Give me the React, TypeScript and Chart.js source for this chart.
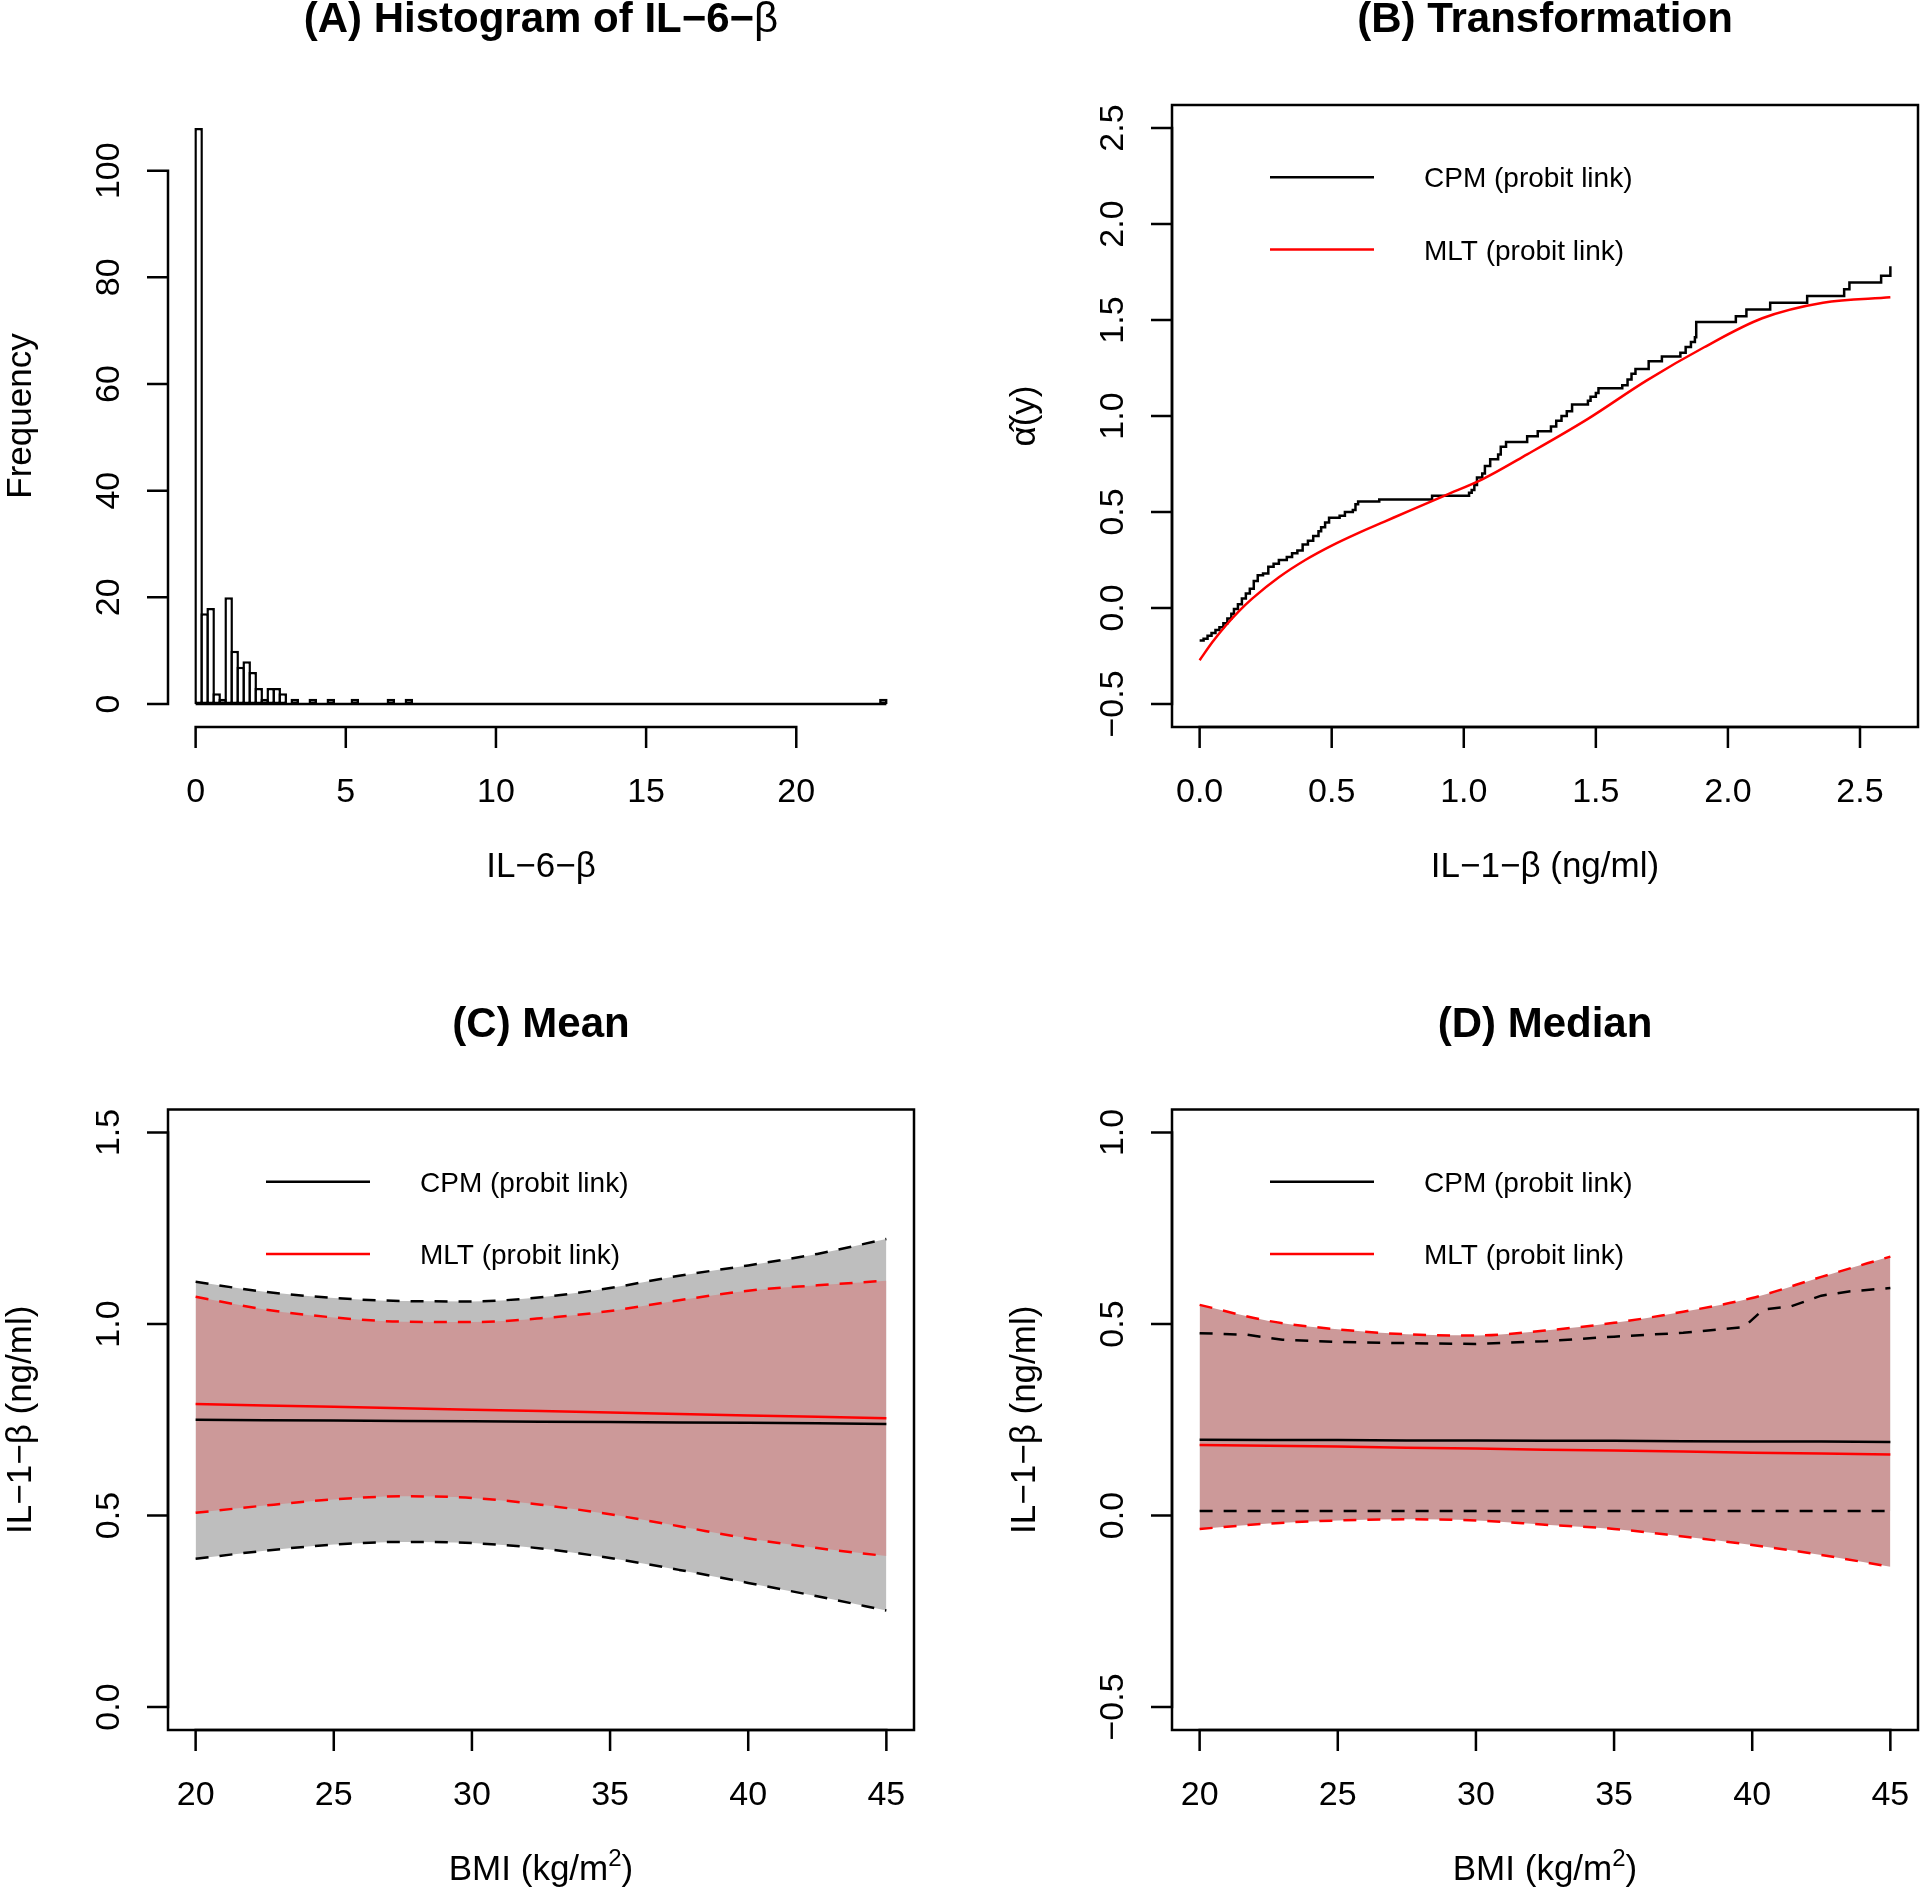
import React, { useEffect, useRef } from "react";
import { Chart, registerables } from "chart.js";

Chart.register(...registerables);

const FONT = '"Liberation Sans", Arial, Helvetica, sans-serif';
const RED = "#FF0000";
const BLACK = "#000000";
const GREY_FILL = "#BEBEBE";
const PINK_FILL = "#CC9999";
const LW = 2.5;
const DASH = [13, 11];
const TICK = 21;

// ---------------- Panel A: histogram of IL-6-β ----------------
const histBinWidth = 0.2;
const histBinStart = [0, 0.2, 0.4, 0.6, 0.8, 1.0, 1.2, 1.4, 1.6, 1.8, 2.0, 2.2, 2.4, 2.6, 2.8, 3.2, 3.8, 4.4, 5.2, 6.4, 7.0, 22.8];
const histCount = [108, 17, 18, 2, 1, 20, 10, 7, 8, 6, 3, 1, 3, 3, 2, 1, 1, 1, 1, 1, 1, 1];
const histBreakRange = [0, 23];
const histXTicks = [0, 5, 10, 15, 20];
const histXTickLabels = ["0", "5", "10", "15", "20"];
const histYTicks = [0, 20, 40, 60, 80, 100];
const histYTickLabels = ["0", "20", "40", "60", "80", "100"];

// ---------------- Panel B: transformation ----------------
const cpmTransX = [0, 0.015, 0.03, 0.045, 0.06, 0.075, 0.09, 0.105, 0.12, 0.13, 0.145, 0.16, 0.175, 0.19, 0.205, 0.22, 0.24, 0.26, 0.28, 0.30, 0.33, 0.35, 0.37, 0.39, 0.41, 0.43, 0.45, 0.46, 0.475, 0.49, 0.53, 0.55, 0.58, 0.59, 0.60, 0.68, 0.88, 1.02, 1.03, 1.04, 1.05, 1.07, 1.08, 1.10, 1.13, 1.14, 1.16, 1.24, 1.28, 1.33, 1.35, 1.37, 1.39, 1.41, 1.47, 1.48, 1.50, 1.51, 1.60, 1.62, 1.635, 1.65, 1.70, 1.75, 1.82, 1.84, 1.86, 1.875, 1.88, 2.03, 2.07, 2.16, 2.30, 2.44, 2.46, 2.58, 2.615];
const cpmTransY = [-0.17, -0.16, -0.145, -0.13, -0.115, -0.10, -0.08, -0.055, -0.03, -0.005, 0.02, 0.05, 0.075, 0.10, 0.14, 0.17, 0.18, 0.215, 0.23, 0.25, 0.265, 0.285, 0.30, 0.33, 0.35, 0.375, 0.40, 0.42, 0.445, 0.47, 0.48, 0.50, 0.51, 0.54, 0.555, 0.565, 0.585, 0.60, 0.615, 0.64, 0.68, 0.70, 0.74, 0.775, 0.80, 0.84, 0.865, 0.895, 0.92, 0.945, 0.975, 1.00, 1.025, 1.06, 1.08, 1.10, 1.12, 1.145, 1.16, 1.19, 1.22, 1.245, 1.285, 1.31, 1.33, 1.36, 1.385, 1.41, 1.49, 1.52, 1.555, 1.59, 1.625, 1.66, 1.695, 1.73, 1.78];
const mltTransX = [0, 0.05, 0.1, 0.15, 0.2, 0.3, 0.4, 0.5, 0.6, 0.7, 0.8, 0.93, 1.07, 1.24, 1.47, 1.69, 1.91, 2.13, 2.36, 2.615];
const mltTransY = [-0.272, -0.175, -0.09, -0.015, 0.05, 0.16, 0.25, 0.325, 0.39, 0.45, 0.51, 0.587, 0.67, 0.8, 0.985, 1.183, 1.358, 1.509, 1.59, 1.618];
const transXTicks = [0, 0.5, 1, 1.5, 2, 2.5];
const transXTickLabels = ["0.0", "0.5", "1.0", "1.5", "2.0", "2.5"];
const transYTicks = [-0.5, 0, 0.5, 1, 1.5, 2, 2.5];
const transYTickLabels = ["\u22120.5", "0.0", "0.5", "1.0", "1.5", "2.0", "2.5"];

// ---------------- Panels C / D: BMI ----------------
const bmi = [20, 22.5, 25, 27.5, 30, 32.5, 35, 37.5, 40, 42.5, 45];
const bmiXTicks = [20, 25, 30, 35, 40, 45];
const bmiXTickLabels = ["20", "25", "30", "35", "40", "45"];

// Mean (C)
const meanCpm = [0.750, 0.749, 0.748, 0.747, 0.746, 0.745, 0.744, 0.743, 0.742, 0.741, 0.739];
const meanCpmLo = [0.387, 0.408, 0.424, 0.431, 0.428, 0.414, 0.389, 0.358, 0.324, 0.289, 0.252];
const meanCpmHi = [1.110, 1.084, 1.068, 1.060, 1.059, 1.070, 1.094, 1.126, 1.153, 1.183, 1.222];
const meanMlt = [0.791, 0.787, 0.784, 0.780, 0.776, 0.773, 0.769, 0.765, 0.761, 0.758, 0.754];
const meanMltLo = [0.507, 0.526, 0.542, 0.550, 0.546, 0.528, 0.503, 0.472, 0.440, 0.415, 0.394];
const meanMltHi = [1.071, 1.038, 1.017, 1.006, 1.005, 1.015, 1.034, 1.062, 1.087, 1.101, 1.113];
const meanYTicks = [0, 0.5, 1, 1.5];
const meanYTickLabels = ["0.0", "0.5", "1.0", "1.5"];

// Median (D)
const medCpm = [0.198, 0.197, 0.197, 0.196, 0.196, 0.195, 0.195, 0.194, 0.193, 0.193, 0.192];
const medCpmLo = [0.012, 0.012, 0.012, 0.012, 0.012, 0.012, 0.012, 0.012, 0.012, 0.012, 0.012];
const medCpmHiX = [20, 21.7, 23, 25, 27.5, 30, 32.5, 35, 37.5, 39.7, 40.4, 41.4, 42.5, 43.5, 45];
const medCpmHi = [0.476, 0.472, 0.459, 0.453, 0.450, 0.448, 0.455, 0.467, 0.477, 0.492, 0.538, 0.546, 0.574, 0.585, 0.594];
const medMlt = [0.184, 0.182, 0.180, 0.177, 0.175, 0.172, 0.170, 0.167, 0.164, 0.162, 0.159];
const medMltLo = [-0.035, -0.021, -0.013, -0.010, -0.013, -0.024, -0.035, -0.055, -0.077, -0.103, -0.134];
const medMltHi = [0.550, 0.508, 0.486, 0.473, 0.470, 0.483, 0.503, 0.532, 0.568, 0.623, 0.676];
const medYTicks = [-0.5, 0, 0.5, 1];
const medYTickLabels = ["\u22120.5", "0.0", "0.5", "1.0"];

const legendLabels = ["CPM (probit link)", "MLT (probit link)"];
const legendColors = [BLACK, RED];

// ---------------- helpers ----------------
type Seg = { t: string; bold?: boolean; size?: number; rise?: number };

function fontOf(s: Seg, base: number) {
  return `${s.bold ? "bold " : ""}${s.size ?? base}px ${FONT}`;
}

function drawSegs(ctx: CanvasRenderingContext2D, segs: Seg[], cx: number, baseY: number, base: number) {
  let total = 0;
  const widths = segs.map((s) => {
    ctx.font = fontOf(s, base);
    const w = ctx.measureText(s.t).width;
    total += w;
    return w;
  });
  let x = cx - total / 2;
  ctx.textAlign = "left";
  ctx.textBaseline = "alphabetic";
  segs.forEach((s, i) => {
    ctx.font = fontOf(s, base);
    ctx.fillText(s.t, x, baseY - (s.rise ?? 0));
    x += widths[i];
  });
}

function pts(xs: number[], ys: number[]) {
  return xs.map((x, i) => ({ x, y: ys[i] }));
}

// R-like plot range: data range extended by 4% each side
function rRange(lo: number, hi: number) {
  const d = (hi - lo) * 0.04;
  return [lo - d, hi + d];
}

interface Deco {
  title: Seg[];
  xTicks: number[];
  xTickLabels: string[];
  yTicks: number[];
  yTickLabels: string[];
  xLabel: Seg[];
  yLabel: Seg[];
  box: boolean;
  legend: boolean;
}

function makeDecor(d: Deco) {
  return {
    id: "rDecor",
    afterDraw(chart: any) {
      const ctx: CanvasRenderingContext2D = chart.ctx;
      const { left, right, top, bottom } = chart.chartArea;
      const xs = chart.scales.x;
      const ys = chart.scales.y;
      ctx.save();
      ctx.setLineDash([]);
      ctx.strokeStyle = BLACK;
      ctx.fillStyle = BLACK;
      ctx.lineWidth = LW;
      ctx.lineCap = "butt";
      if (d.box) ctx.strokeRect(left, top, right - left, bottom - top);

      // x axis
      const xa = xs.getPixelForValue(d.xTicks[0]);
      const xb = xs.getPixelForValue(d.xTicks[d.xTicks.length - 1]);
      ctx.beginPath();
      ctx.moveTo(xa - LW / 2, bottom);
      ctx.lineTo(xb + LW / 2, bottom);
      d.xTicks.forEach((v) => {
        const p = xs.getPixelForValue(v);
        ctx.moveTo(p, bottom);
        ctx.lineTo(p, bottom + TICK);
      });
      ctx.stroke();

      // y axis
      const ya = ys.getPixelForValue(d.yTicks[0]);
      const yb = ys.getPixelForValue(d.yTicks[d.yTicks.length - 1]);
      ctx.beginPath();
      ctx.moveTo(left, ya + LW / 2);
      ctx.lineTo(left, yb - LW / 2);
      d.yTicks.forEach((v) => {
        const p = ys.getPixelForValue(v);
        ctx.moveTo(left, p);
        ctx.lineTo(left - TICK, p);
      });
      ctx.stroke();

      // tick labels
      ctx.font = `34px ${FONT}`;
      ctx.textAlign = "center";
      ctx.textBaseline = "alphabetic";
      d.xTicks.forEach((v, i) => {
        ctx.fillText(d.xTickLabels[i], xs.getPixelForValue(v), bottom + 75);
      });
      d.yTicks.forEach((v, i) => {
        ctx.save();
        ctx.translate(left - 49, ys.getPixelForValue(v));
        ctx.rotate(-Math.PI / 2);
        ctx.textAlign = "center";
        ctx.fillText(d.yTickLabels[i], 0, 0);
        ctx.restore();
      });

      // titles and axis labels
      drawSegs(ctx, d.title, (left + right) / 2, top - 73, 42);
      drawSegs(ctx, d.xLabel, (left + right) / 2, bottom + 150, 35);
      ctx.save();
      ctx.translate(left - 137, (top + bottom) / 2);
      ctx.rotate(-Math.PI / 2);
      drawSegs(ctx, d.yLabel, 0, 0, 35);
      ctx.restore();

      // legend
      if (d.legend) {
        legendLabels.forEach((lab, i) => {
          const y = top + 72.3 * (i + 1);
          ctx.strokeStyle = legendColors[i];
          ctx.lineWidth = LW;
          ctx.beginPath();
          ctx.moveTo(left + 98, y);
          ctx.lineTo(left + 202, y);
          ctx.stroke();
          ctx.fillStyle = BLACK;
          ctx.font = `28px ${FONT}`;
          ctx.textAlign = "left";
          ctx.fillText(lab, left + 252, y + 10);
        });
      }
      ctx.restore();
    },
  };
}

function baseOptions(xr: number[], yr: number[], padding: any) {
  return {
    responsive: false,
    maintainAspectRatio: false,
    animation: false,
    devicePixelRatio: 1,
    events: [],
    layout: { padding },
    plugins: {
      legend: { display: false },
      tooltip: { enabled: false },
      title: { display: false },
      filler: { propagate: false, drawTime: "beforeDatasetsDraw" },
    },
    elements: { point: { radius: 0, hoverRadius: 0 } },
    scales: {
      x: { type: "linear", min: xr[0], max: xr[1], display: false, offset: false },
      y: { type: "linear", min: yr[0], max: yr[1], display: false },
    },
  };
}

const solid = (data: any, color: string, extra: any = {}) => ({
  type: "line",
  data,
  borderColor: color,
  borderWidth: LW,
  pointRadius: 0,
  fill: false,
  ...extra,
});

const dashed = (data: any, color: string, extra: any = {}) => solid(data, color, { borderDash: DASH, ...extra });

// ---------------- chart builders ----------------
function makeA() {
  const bars = histBinStart.map((s, i) => ({ x: s + histBinWidth / 2, y: histCount[i] }));
  const baseline = [
    { x: histBreakRange[0], y: 0 },
    { x: histBreakRange[1], y: 0 },
  ];
  const xr = rRange(histBreakRange[0], histBreakRange[1]);
  const yr = rRange(0, Math.max(...histCount));
  return {
    type: "bar",
    data: {
      datasets: [
        {
          type: "bar",
          label: "Frequency",
          data: bars,
          backgroundColor: "#FFFFFF",
          borderColor: BLACK,
          borderWidth: LW,
          borderSkipped: false,
          barThickness: 6 + LW,
          inflateAmount: 0,
          order: 1,
        },
        solid(baseline, BLACK, { order: 0 }),
      ],
    },
    options: baseOptions(xr, yr, { left: 168, top: 105, right: 46, bottom: 218 }),
    plugins: [
      makeDecor({
        title: [{ t: "(A) Histogram of IL\u22126\u2212", bold: true }, { t: "\u03B2" }],
        xTicks: histXTicks,
        xTickLabels: histXTickLabels,
        yTicks: histYTicks,
        yTickLabels: histYTickLabels,
        xLabel: [{ t: "IL\u22126\u2212\u03B2" }],
        yLabel: [{ t: "Frequency" }],
        box: false,
        legend: false,
      }),
    ],
  };
}

function makeB() {
  const xr = rRange(0, 2.615);
  const yr = rRange(-0.5, 2.5);
  return {
    type: "line",
    data: {
      datasets: [
        solid(pts(mltTransX, mltTransY), RED, { label: "MLT (probit link)", cubicInterpolationMode: "monotone" }),
        solid(pts(cpmTransX, cpmTransY), BLACK, { label: "CPM (probit link)", stepped: "before" }),
      ],
    },
    options: baseOptions(xr, yr, { left: 212, top: 105, right: 2, bottom: 218 }),
    plugins: [
      makeDecor({
        title: [{ t: "(B) Transformation", bold: true }],
        xTicks: transXTicks,
        xTickLabels: transXTickLabels,
        yTicks: transYTicks,
        yTickLabels: transYTickLabels,
        xLabel: [{ t: "IL\u22121\u2212\u03B2 (ng/ml)" }],
        yLabel: [{ t: "\u03B1\u0302(y)" }],
        box: true,
        legend: true,
      }),
    ],
  };
}

const bmiLabel: Seg[] = [{ t: "BMI (kg/m" }, { t: "2", size: 24, rise: 14 }, { t: ")" }];

function makeC() {
  const xr = rRange(20, 45);
  const yr = rRange(0, 1.5);
  const mono = { cubicInterpolationMode: "monotone" };
  return {
    type: "line",
    data: {
      datasets: [
        solid(pts(bmi, meanMlt), RED, { label: "MLT mean" }),
        solid(pts(bmi, meanCpm), BLACK, { label: "CPM mean" }),
        dashed(pts(bmi, meanMltHi), RED, { ...mono, fill: "+1", backgroundColor: PINK_FILL }),
        dashed(pts(bmi, meanMltLo), RED, mono),
        dashed(pts(bmi, meanCpmHi), BLACK, { ...mono, fill: "+1", backgroundColor: GREY_FILL }),
        dashed(pts(bmi, meanCpmLo), BLACK, mono),
      ],
    },
    options: baseOptions(xr, yr, { left: 168, top: 164.5, right: 46, bottom: 160 }),
    plugins: [
      makeDecor({
        title: [{ t: "(C) Mean", bold: true }],
        xTicks: bmiXTicks,
        xTickLabels: bmiXTickLabels,
        yTicks: meanYTicks,
        yTickLabels: meanYTickLabels,
        xLabel: bmiLabel,
        yLabel: [{ t: "IL\u22121\u2212\u03B2 (ng/ml)" }],
        box: true,
        legend: true,
      }),
    ],
  };
}

function makeD() {
  const xr = rRange(20, 45);
  const yr = rRange(-0.5, 1.0);
  const mono = { cubicInterpolationMode: "monotone" };
  return {
    type: "line",
    data: {
      datasets: [
        solid(pts(bmi, medMlt), RED, { label: "MLT median" }),
        solid(pts(bmi, medCpm), BLACK, { label: "CPM median" }),
        dashed(pts(bmi, medMltHi), RED, { ...mono, fill: "+1", backgroundColor: PINK_FILL }),
        dashed(pts(bmi, medMltLo), RED, mono),
        dashed(pts(medCpmHiX, medCpmHi), BLACK, { fill: "+1", backgroundColor: GREY_FILL }),
        dashed(pts(bmi, medCpmLo), BLACK),
      ],
    },
    options: baseOptions(xr, yr, { left: 212, top: 164.5, right: 2, bottom: 160 }),
    plugins: [
      makeDecor({
        title: [{ t: "(D) Median", bold: true }],
        xTicks: bmiXTicks,
        xTickLabels: bmiXTickLabels,
        yTicks: medYTicks,
        yTickLabels: medYTickLabels,
        xLabel: bmiLabel,
        yLabel: [{ t: "IL\u22121\u2212\u03B2 (ng/ml)" }],
        box: true,
        legend: true,
      }),
    ],
  };
}

function Panel({ left, top, make }: { left: number; top: number; make: () => any }) {
  const ref = useRef<HTMLCanvasElement>(null);
  useEffect(() => {
    const chart = new Chart(ref.current as HTMLCanvasElement, make());
    return () => chart.destroy();
  }, []);
  return (
    <canvas
      ref={ref}
      width={960}
      height={945}
      style={{ position: "absolute", left, top, width: 960, height: 945 }}
    />
  );
}

export default function App() {
  return (
    <div style={{ position: "absolute", left: 0, top: 0, width: 1920, height: 1890, background: "#FFFFFF" }}>
      <Panel left={0} top={0} make={makeA} />
      <Panel left={960} top={0} make={makeB} />
      <Panel left={0} top={945} make={makeC} />
      <Panel left={960} top={945} make={makeD} />
    </div>
  );
}
